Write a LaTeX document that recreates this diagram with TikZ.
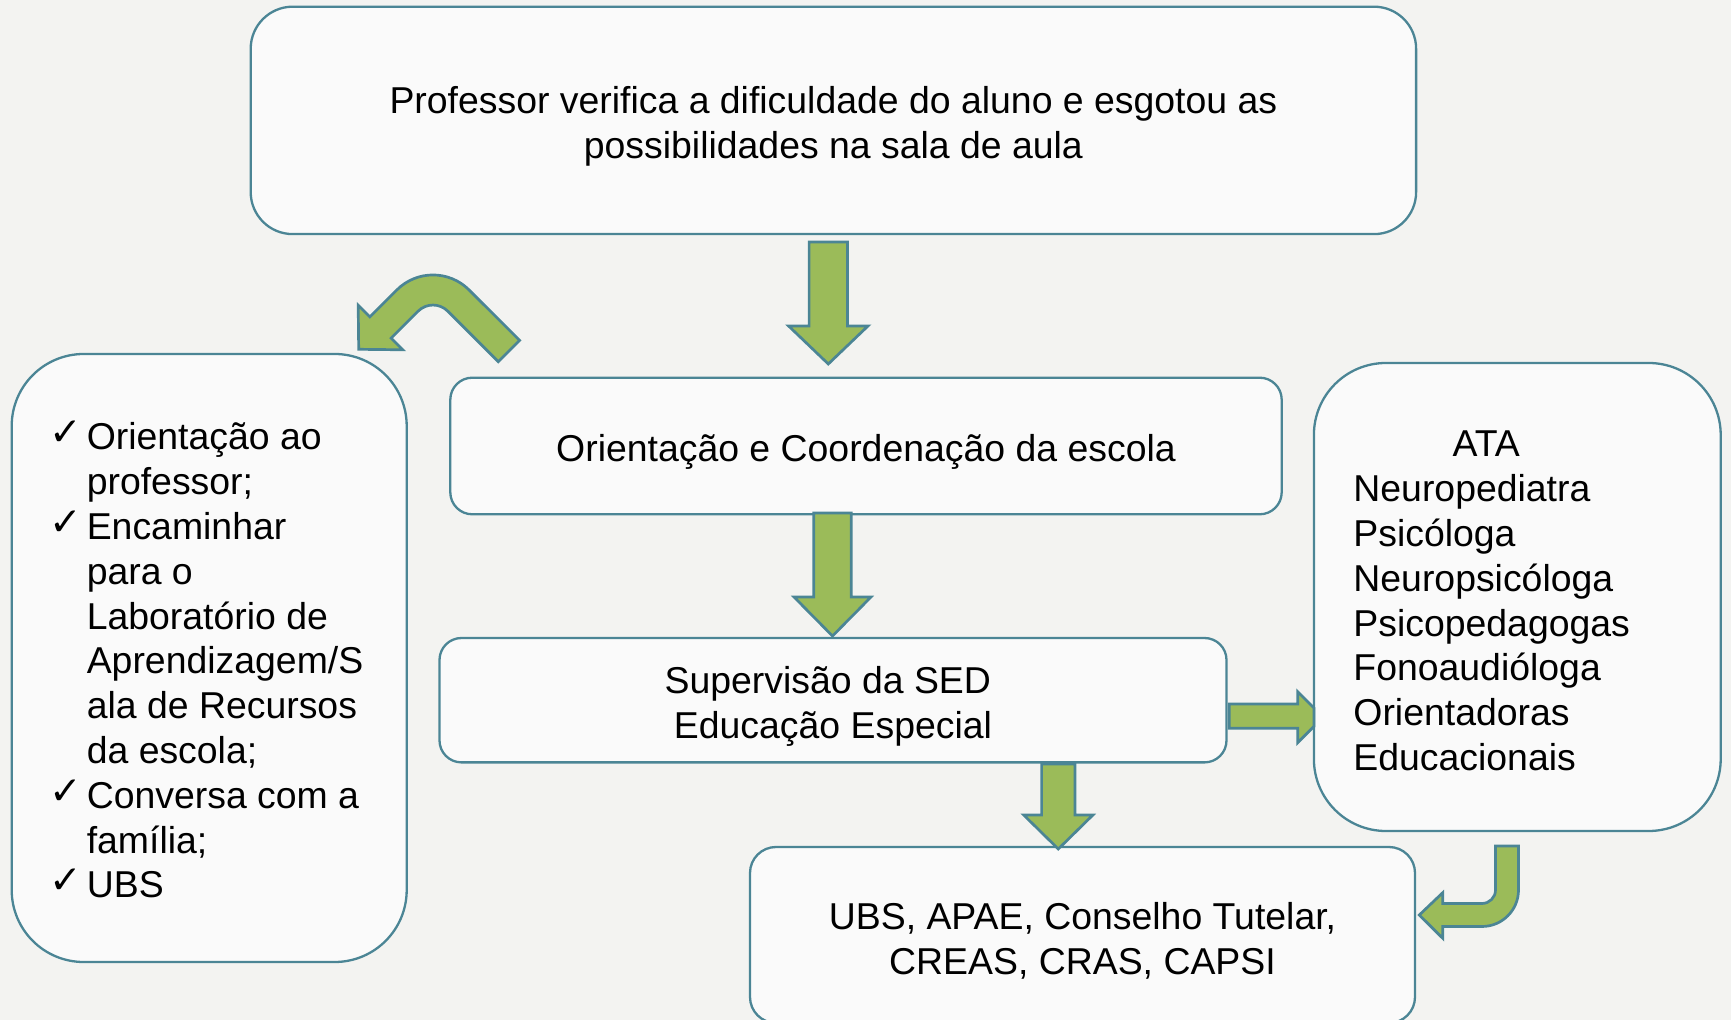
\documentclass[tikz,border=0pt]{standalone}
\usepackage{fontspec}
\setmainfont{Liberation Sans}
\newfontfamily\chkfont{DejaVu Sans}
\usetikzlibrary{positioning}
\definecolor{fundo}{HTML}{F3F3F1}
\definecolor{caixa}{HTML}{FAFAFA}
\definecolor{borda}{HTML}{4B8595}
\definecolor{verde}{HTML}{9BBB59}
\tikzset{font=\fontsize{18.7}{22.4}\selectfont}
\tikzset{caixa/.style={draw=borda, fill=caixa, line width=1.15pt, align=center, inner sep=0pt}}
\tikzset{seta/.style={draw=borda, fill=verde, line width=1.35pt, line join=miter}}
\newcommand{\chk}{\makebox[16.7pt][l]{\kern-1.8pt\smash{\raisebox{2pt}{\chkfont\fontsize{19.5}{19.5}\selectfont ✓}}}}
\newcommand{\topo}{\rule{0pt}{19.5pt}}

\begin{document}
\begin{tikzpicture}[x=0.5pt,y=-0.5pt]
  \useasboundingbox (0,0) rectangle (1731,1020);
  \clip (0,0) rectangle (1731,1020);
  \fill[fundo] (0,0) rectangle (1731,1020);

  % caixas
  \node[caixa, minimum width=582.7pt, minimum height=113.7pt, rounded corners=21pt] (prof) at (833.4,120.4)
    {\topo Professor verifica a dificuldade do aluno e esgotou as\\possibilidades na sala de aula};
  \node[caixa, minimum width=415.7pt, minimum height=68.3pt, rounded corners=11pt] (orient) at (866,446)
    {\topo Orientação e Coordenação da escola};
  \node[caixa, minimum width=393.5pt, minimum height=62.2pt, rounded corners=11pt] (sup) at (833,700.2)
    {\topo Supervisão da SED\hspace*{5.2pt}\\Educação Especial};
  \node[caixa, minimum width=332.5pt, minimum height=88pt, rounded corners=13pt] (rede) at (1082.5,935)
    {\topo UBS, APAE, Conselho Tutelar,\\CREAS, CRAS, CAPSI};
  \node[caixa, minimum width=197.5pt, minimum height=304pt, rounded corners=36pt] (acoes) at (209.2,658) {};
  \node[caixa, minimum width=203.4pt, minimum height=234pt, rounded corners=36pt] (equipe) at (1517.3,597) {};

  \node[anchor=base west, inner sep=0pt] (acoes_txt) at (53,450) {%
    \begin{tabular}[t]{@{}l@{}l@{}}
      \chk & Orientação ao\\
           & professor;\\
      \chk & Encaminhar\\
           & para o\\
           & Laboratório de\\
           & Aprendizagem/S\\
           & ala de Recursos\\
           & da escola;\\
      \chk & Conversa com a\\
           & família;\\
      \chk & UBS
    \end{tabular}};
  \node[anchor=base west, inner sep=0pt] (equipe_txt) at (1353,457) {%
    \begin{tabular}[t]{@{}l@{}}
      \multicolumn{1}{@{}c@{\hspace{5.5pt}}}{ATA}\\
      Neuropediatra\\
      Psicóloga\\
      Neuropsicóloga\\
      Psicopedagogas\\
      Fonoaudióloga\\
      Orientadoras\\
      Educacionais
    \end{tabular}};

  % setas para baixo
  \foreach \xc/\yt/\yb/\yp/\hs/\hh in {828.3/242/326/364/19.2/39.7,
                                       832.5/513/597/636/18.7/38.5,
                                       1058.3/764/815/849/16.7/34.6}{
    \draw[seta] (\xc-\hs,\yt) -- (\xc+\hs,\yt) -- (\xc+\hs,\yb) -- (\xc+\hh,\yb)
      -- (\xc,\yp) -- (\xc-\hh,\yb) -- (\xc-\hs,\yb) -- cycle;
  };

  % seta para a direita (ponta escondida pela caixa)
  \draw[seta] (1229.3,704) -- (1297.7,704) -- (1297.7,691.7) -- (1314,708)
    -- (1314,726.4) -- (1297.7,742.7) -- (1297.7,728.3) -- (1229.3,728.3) -- cycle;

  % seta curva para a esquerda
  \draw[seta] (498.3,361.7) -- (447.8,311.2) arc (-45:-135:21) -- (391.15,338.15)
    -- (402.8,349.8) -- (358.7,349.3) -- (358.2,305.2) -- (369.9,316.9)
    -- (396.9,289.9) arc (-135:-45:51) -- (519.6,340.4) -- cycle;

  % seta em gancho
  \draw[seta] (1495.5,846) -- (1495.5,890) arc (0:90:13.5) -- (1442.7,903.5)
    -- (1442.7,892.7) -- (1419.3,915) -- (1442.7,938.3) -- (1442.7,926.5)
    -- (1482,926.5) arc (90:0:36.5) -- (1518.5,846) -- cycle;
\end{tikzpicture}
\end{document}
